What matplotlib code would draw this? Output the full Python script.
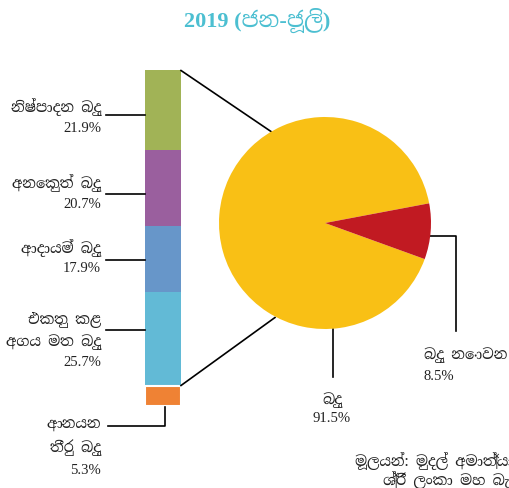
import matplotlib.pyplot as plt
from matplotlib import font_manager

# data
title = "2019 (ජන-ජූලි)"
bar_labels = ["නිෂ්පාදන බදු", "අනෙකුත් බදු", "ආදායම් බදු", "එකතු කළ\nඅගය මත බදු", "ආනයන\nතීරු බදු"]
bar_values = [21.9, 20.7, 17.9, 25.7, 5.3]
bar_colors = ["#a1b356", "#9a5f9e", "#6796c9", "#62bad6", "#ef8234"]
pie_labels = ["බදු", "බදු නොවන"]
pie_values = [91.5, 8.5]
pie_colors = ["#f9c015", "#c11a22"]
source = ["මූලයන්: මුදල් අමාත්‍යාංශය", "ශ්‍රී ලංකා මහ බැංකුව"]

# fonts: sinhala font for words, serif for numbers
installed = {f.name for f in font_manager.fontManager.ttflist}
sinhala = sorted([n for n in installed if "Sinhala" in n], key=lambda n: "Serif" not in n)
SIN = sinhala + ["Liberation Serif", "DejaVu Sans"]
NUM = ["Liberation Serif", "DejaVu Serif"]
plt.rcParams['font.family'] = NUM

fig = plt.figure(figsize=(5.1, 4.88), dpi=100)
ax = fig.add_axes([0, 0, 1, 1])
ax.set_xlim(0, 510)
ax.set_ylim(488, 0)
ax.axis('off')

# stacked bar (pixel space, 3.67 px per percent)
k = 3.67
bottom = 70
for i, v in enumerate(bar_values):
    ax.bar(163, v * k, bottom=bottom, width=36.5, color=bar_colors[i],
           edgecolor='white' if i == 4 else bar_colors[i], linewidth=1.5 if i == 4 else 0)
    bottom += v * k

ax.text(257, 20, title, ha='center', va='center', fontsize=16, fontweight='bold',
        color='#4cbfd1', family=NUM + sinhala)

# left labels with leader lines
line_y = [115, 194, 260, 330]
text_y = [[107, 129], [183, 204], [248, 269], [320, 342, 363]]
for i in range(4):
    ax.plot([106, 145], [line_y[i], line_y[i]], color='black', lw=1.2)
    rows = bar_labels[i].split("\n")
    for j, r in enumerate(rows):
        ax.text(101, text_y[i][j], r, ha='right', va='center', fontsize=10.5, color='#222222', family=SIN)
    ax.text(101, text_y[i][-1], "%.1f%%" % bar_values[i], ha='right', va='center', fontsize=10.5, color='#222222')

# import duties label
ax.plot([165, 165, 108], [407, 426, 426], color='black', lw=1.2)
rows = bar_labels[4].split("\n")
for j, r in enumerate(rows):
    ax.text(101, [425, 448][j], r, ha='right', va='center', fontsize=10.5, color='#222222', family=SIN)
ax.text(101, 470, "%.1f%%" % bar_values[4], ha='right', va='center', fontsize=10.5, color='#222222')

# connector lines bar -> pie
ax.plot([181, 271], [70.5, 131.5], color='black', lw=1.2)
ax.plot([181, 275], [385.5, 317.5], color='black', lw=1.2)

# pie
cx, cy, r = 325, 223, 106
pax = fig.add_axes([(cx - r) / 510, (488 - cy - r) / 488, 2 * r / 510, 2 * r / 488])
wedges, _ = pax.pie(pie_values, colors=pie_colors, startangle=10.7)
pax.set_xlim(-1, 1)
pax.set_ylim(-1, 1)
pax.axis('off')

# pie labels
ax.plot([430, 456, 456], [236, 236, 331], color='black', lw=1.2)
ax.text(424, 355, pie_labels[1], ha='left', va='center', fontsize=10.5, color='#222222', family=SIN)
ax.text(424, 376, "%.1f%%" % pie_values[1], ha='left', va='center', fontsize=10.5, color='#222222')
ax.plot([333, 333], [329, 377], color='black', lw=1.2)
ax.text(332, 400, pie_labels[0], ha='center', va='center', fontsize=10.5, color='#222222', family=SIN)
ax.text(332, 419, "%.1f%%" % pie_values[0], ha='center', va='center', fontsize=10.5, color='#222222')

# source note (runs off the right edge, as in the original)
ax.text(355, 461, source[0], ha='left', va='center', fontsize=10.5, color='#222222', family=SIN)
ax.text(383, 480, source[1], ha='left', va='center', fontsize=10.5, color='#222222', family=SIN)

plt.savefig("out.png", dpi=100)
